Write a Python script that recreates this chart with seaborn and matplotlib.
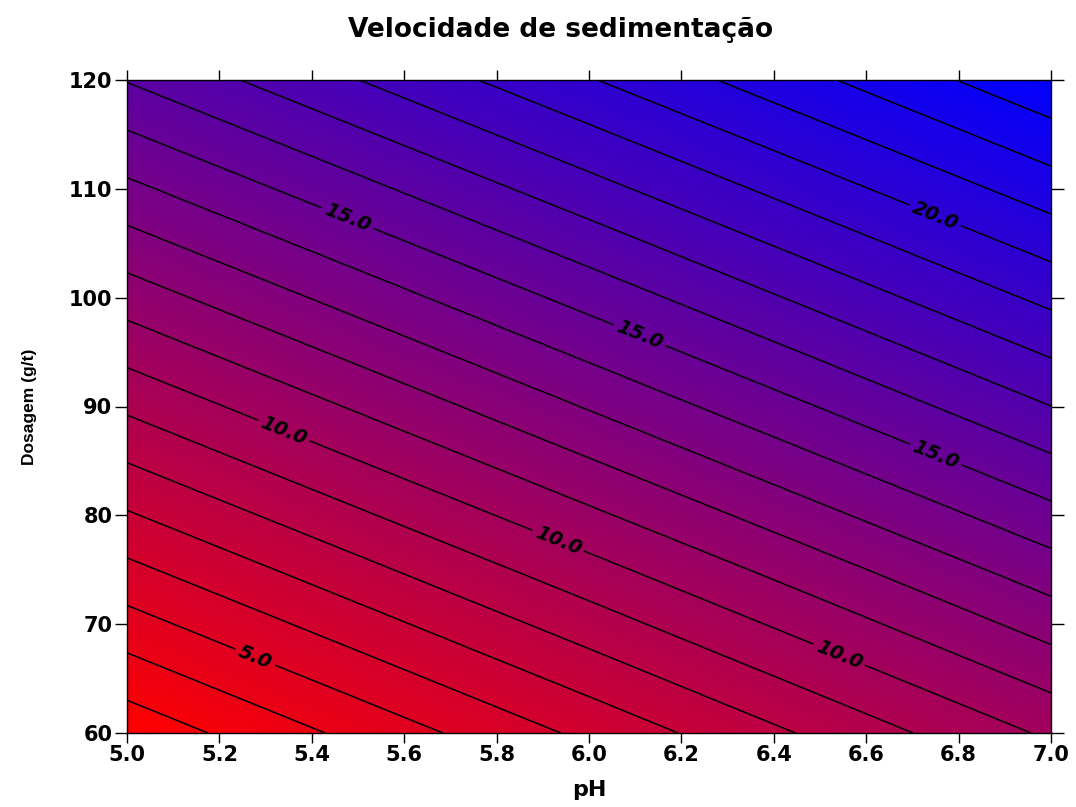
import numpy as np
import matplotlib
matplotlib.use("Agg")
import matplotlib.pyplot as plt
import seaborn as sns
from matplotlib.colors import LinearSegmentedColormap

# ---- data ----
ph = [5.0, 5.5, 6.0, 6.5, 7.0]
dosagem = [60, 75, 90, 105, 120]
velocidade = [
    [2.31, 4.28, 6.24, 8.21, 10.17],
    [5.75, 7.70, 9.65, 11.60, 13.55],
    [9.18, 11.13, 13.08, 15.03, 16.99],
    [12.62, 14.56, 16.50, 18.45, 20.39],
    [16.05, 17.99, 19.93, 21.86, 23.80],
]
contour_levels = list(range(3, 24))
labeled_levels = [5, 10, 15, 20]
label_positions = [(5.48, 107.6), (6.11, 96.6), (6.75, 85.5), (6.75, 107.6),
                   (5.34, 87.8), (5.93, 77.3), (6.54, 67.0), (5.28, 67.2)]
xticks = [5.0, 5.2, 5.4, 5.6, 5.8, 6.0, 6.2, 6.4, 6.6, 6.8, 7.0]
yticks = [60, 70, 80, 90, 100, 110, 120]
title = "Velocidade de sedimentação"
xlabel = "pH"
ylabel = "Dosagem (g/t)"

sns.set_style("ticks")
plt.rcParams['font.family'] = ['DejaVu Sans']
plt.rcParams['text.color'] = 'black'
plt.rcParams['axes.labelcolor'] = 'black'

W, H = 1076, 807
fig = plt.figure(figsize=(W / 100, H / 100), dpi=100)
ax = fig.add_axes([127 / W, 1 - 733 / H, 924 / W, 653 / H])

X, Y = np.meshgrid(ph, dosagem)
Z = np.array(velocidade)
cmap = LinearSegmentedColormap.from_list('red_blue', ['#ff0000', '#0000ff'])
ax.pcolormesh(X, Y, Z, shading='gouraud', cmap=cmap, vmin=Z.min(), vmax=Z.max())
plain_levels = [lv for lv in contour_levels if lv not in labeled_levels]
ax.contour(X, Y, Z, levels=plain_levels, colors='black', linewidths=1.1)
cs_lab = ax.contour(X, Y, Z, levels=labeled_levels, colors='black', linewidths=1.1)
labels = ax.clabel(cs_lab, inline=True, fmt='%.1f', fontsize=14,
                   manual=label_positions, inline_spacing=6)
for t in labels:
    t.set_fontstyle('italic')
    t.set_fontweight('bold')
    t.set_color('black')

ax.set_xlim(5.0, 7.0)
ax.set_ylim(60, 120)
ax.set_xticks(xticks)
ax.set_xticklabels([f"{v:.1f}" for v in xticks])
ax.set_yticks(yticks)
ax.set_yticklabels([str(v) for v in yticks])
ax.tick_params(direction='out', length=7, width=1, colors='black',
               top=True, right=True, labelsize=15, pad=1.5)
ax.tick_params(axis='y', which='both', length=9)
for lab in ax.get_xticklabels() + ax.get_yticklabels():
    lab.set_fontweight('bold')
for s in ax.spines.values():
    s.set_visible(True)
    s.set_color('black')
    s.set_linewidth(1.0)

ax.set_xlabel(xlabel, fontsize=16, fontweight='bold', color='black')
ax.xaxis.set_label_coords(0.5, (733 - 780) / 653)
ax.set_ylabel(ylabel, fontsize=12.5, color='black', fontweight='bold',
              family=['Liberation Sans', 'DejaVu Sans'])
ax.yaxis.set_label_coords(-(127 - 37) / 924, 0.5)

fig.text(561 / W, 1 - 37 / H, title, ha='center', va='baseline',
         fontsize=19, fontweight='bold', color='black')

fig.savefig("out.png", dpi=100)
